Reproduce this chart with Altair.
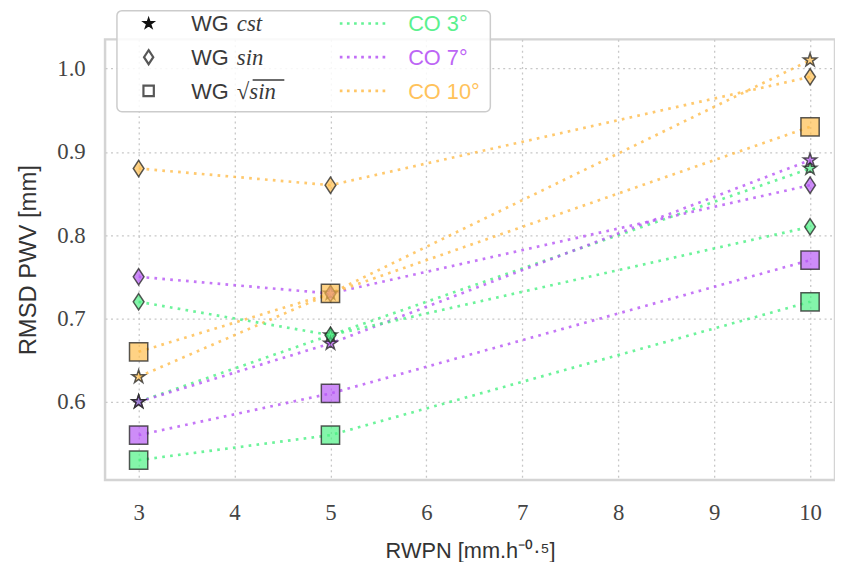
import altair as alt
import pandas as pd

# ---------------- data ----------------
rwpn = [3, 5, 10]
co_labels = ["CO 3°", "CO 7°", "CO 10°"]
wg_models = ["cst", "sin", "sqrt_sin"]

co3_cst = [0.60, 0.68, 0.88]
co3_sin = [0.72, 0.68, 0.81]
co3_sqrt = [0.53, 0.56, 0.72]

co7_cst = [0.60, 0.67, 0.89]
co7_sin = [0.75, 0.73, 0.86]
co7_sqrt = [0.56, 0.61, 0.77]

co10_cst = [0.63, 0.73, 1.01]
co10_sin = [0.88, 0.86, 0.99]
co10_sqrt = [0.66, 0.73, 0.93]

x_ticks = [3, 4, 5, 6, 7, 8, 9, 10]
y_ticks = [0.6, 0.7, 0.8, 0.9, 1.0]

series = {
    ("CO 3°", "cst"): co3_cst, ("CO 7°", "cst"): co7_cst, ("CO 10°", "cst"): co10_cst,
    ("CO 3°", "sin"): co3_sin, ("CO 7°", "sin"): co7_sin, ("CO 10°", "sin"): co10_sin,
    ("CO 3°", "sqrt_sin"): co3_sqrt, ("CO 7°", "sqrt_sin"): co7_sqrt, ("CO 10°", "sqrt_sin"): co10_sqrt,
}
rows = []
for (co, wg), vals in series.items():
    for x, v in zip(rwpn, vals):
        rows.append({"co": co, "wg": wg, "rwpn": x, "rmsd": v, "grp": co + "|" + wg})
df = pd.DataFrame(rows)
one = pd.DataFrame({"k": [0]})  # single row for legend decorations

# ---------------- styles ----------------
colors = ["#49f082", "#b655f5", "#ffbc4a"]
STAR = "M0,-1L0.2245,-0.309L0.951,-0.309L0.363,0.118L0.588,0.809L0,0.382L-0.588,0.809L-0.363,0.118L-0.951,-0.309L-0.2245,-0.309Z"
THIN_DIAMOND = "M0,-1L0.66,0L0,1L-0.66,0Z"
shapes = [STAR, THIN_DIAMOND, "square"]
sizes = [200, 340, 160]

xscale = alt.Scale(domain=[2.65, 10.26], nice=False, zero=False)
yscale = alt.Scale(domain=[0.506, 1.035], nice=False, zero=False)
cscale = alt.Scale(domain=co_labels, range=colors)

SERIF = "Liberation Serif"
SANS = "Liberation Sans"

x_enc = alt.X("rwpn:Q", scale=xscale,
              axis=alt.Axis(values=x_ticks, format="d", title="RWPN [mm.h⁻⁰·⁵]",
                            labelFont=SERIF, labelFontSize=23, labelColor="#444",
                            titleFont=SANS, titleFontSize=22, titleColor="#333",
                            titleFontWeight="normal", labelPadding=22, titlePadding=16,
                            ticks=False, domain=False, grid=True))
y_enc = alt.Y("rmsd:Q", scale=yscale,
              axis=alt.Axis(values=y_ticks, format=".1f", title="RMSD PWV [mm]",
                            labelFont=SERIF, labelFontSize=23, labelColor="#444",
                            titleFont=SANS, titleFontSize=24, titleColor="#333",
                            titleFontWeight="normal", labelPadding=20, titlePadding=16,
                            ticks=False, domain=False, grid=True))

lines = alt.Chart(df).mark_line(strokeWidth=2.7, strokeDash=[2.7, 5.3], opacity=0.8).encode(
    x=x_enc, y=y_enc,
    color=alt.Color("co:N", scale=cscale, legend=None),
    detail="grp:N",
)

points = alt.Chart(df).mark_point(filled=True, stroke="#222", strokeWidth=1.5,
                                  strokeOpacity=0.75, fillOpacity=0.68, opacity=1).encode(
    x=alt.X("rwpn:Q", scale=xscale),
    y=alt.Y("rmsd:Q", scale=yscale),
    fill=alt.Fill("co:N", scale=cscale, legend=None),
    shape=alt.Shape("wg:N", scale=alt.Scale(domain=wg_models, range=shapes), legend=None),
    size=alt.Size("wg:N", scale=alt.Scale(domain=wg_models, range=sizes), legend=None),
)

# ---------------- manual legend ----------------
legend_layers = []
legend_layers.append(
    alt.Chart(one).mark_rect(fill="white", fillOpacity=0.85, stroke="#cccccc",
                             strokeWidth=1.5, cornerRadius=5).encode(
        x=alt.value(12), x2=alt.value(389), y=alt.value(-29), y2=alt.value(73))
)
row_y = [-16, 18, 52]
legend_shapes = [STAR, THIN_DIAMOND, "square"]
legend_sizes = [120, 200, 110]
legend_filled = [True, False, False]
legend_math = ["cst", "sin", "√sin"]
for i in range(3):
    if legend_filled[i]:
        sym = alt.Chart(one).mark_point(filled=True, fill="#111", stroke="#111", strokeWidth=1.5,
                                        opacity=1, shape=legend_shapes[i], size=legend_sizes[i])
    else:
        sym = alt.Chart(one).mark_point(filled=False, stroke="#111", strokeWidth=2.2,
                                        shape=legend_shapes[i], size=legend_sizes[i])
    legend_layers.append(sym.encode(x=alt.value(44), y=alt.value(row_y[i])))
    legend_layers.append(
        alt.Chart(one).mark_text(text="WG", font=SANS, fontSize=22, fontWeight="normal",
                                 color="#3a3a3a", align="left", baseline="middle").encode(
            x=alt.value(87), y=alt.value(row_y[i] + 1))
    )
    legend_layers.append(
        alt.Chart(one).mark_text(text=legend_math[i], font=SERIF, fontSize=23,
                                 fontStyle="italic", fontWeight="normal", color="#3a3a3a",
                                 align="left", baseline="middle").encode(
            x=alt.value(133), y=alt.value(row_y[i] + 1))
    )
    legend_layers.append(
        alt.Chart(one).mark_rule(stroke=colors[i], strokeWidth=2.7, strokeDash=[2.7, 4.5],
                                 opacity=0.85).encode(
            x=alt.value(237), x2=alt.value(284), y=alt.value(row_y[i]))
    )
    legend_layers.append(
        alt.Chart(one).mark_text(text=co_labels[i], font=SANS, fontSize=22, fontWeight="normal",
                                 color=colors[i], opacity=0.9, align="left",
                                 baseline="middle").encode(
            x=alt.value(306), y=alt.value(row_y[i] + 1))
    )
# overline of the square root
legend_layers.append(
    alt.Chart(one).mark_rule(stroke="#3a3a3a", strokeWidth=1.3).encode(
        x=alt.value(149), x2=alt.value(181), y=alt.value(row_y[2] - 11))
)

chart = alt.layer(lines, points, *legend_layers).properties(
    width=737, height=445,
    padding={"left": 98, "top": 29, "right": 0, "bottom": 80},
    autosize=alt.AutoSizeParams(type="none"),
).configure_view(
    stroke="#d4d4d4", strokeWidth=2.5
).configure_axis(
    gridColor="#c8c8c8", gridDash=[2, 3.5], gridWidth=1.3
)

chart.save("out.html", embed_options={"renderer": "svg", "actions": False})
